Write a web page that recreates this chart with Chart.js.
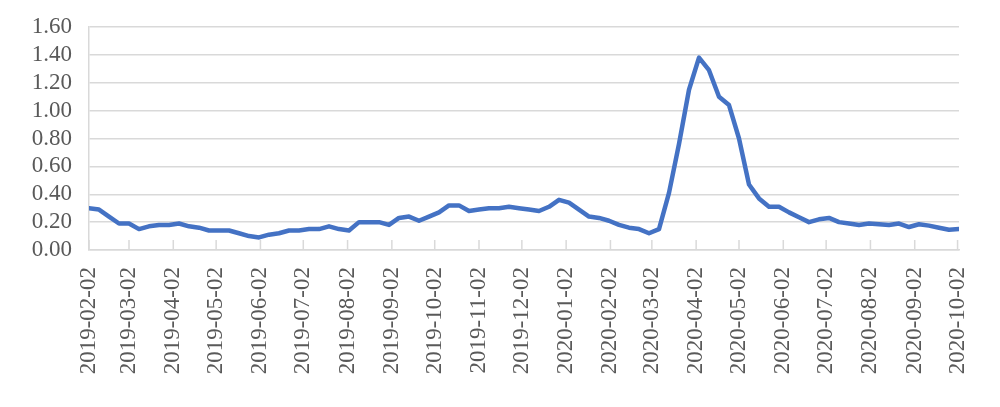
<!DOCTYPE html>
<html>
<head>
<meta charset="utf-8">
<script src="https://cdn.jsdelivr.net/npm/chart.js@4"></script>
<style>
  body { margin: 0; background: #fff; }
  #wrap { width: 1000px; height: 407px; }
</style>
</head>
<body>
<div id="wrap"><canvas id="chart" width="1000" height="407"></canvas></div>
<script>
// weekly series, first point on 2019-02-02
const startDate = '2019-02-02';
const stepDays = 7;
const values = [
    0.30, 0.29, 0.24, 0.19, 0.19, 0.15, 0.17, 0.18, 0.18, 0.19,
    0.17, 0.16, 0.14, 0.14, 0.14, 0.12, 0.10, 0.09, 0.11, 0.12,
    0.14, 0.14, 0.15, 0.15, 0.17, 0.15, 0.14, 0.20, 0.20, 0.20,
    0.18, 0.23, 0.24, 0.21, 0.24, 0.27, 0.32, 0.32, 0.28, 0.29,
    0.30, 0.30, 0.31, 0.30, 0.29, 0.28, 0.31, 0.36, 0.34, 0.29,
    0.24, 0.23, 0.21, 0.18, 0.16, 0.15, 0.12, 0.15, 0.41, 0.76,
    1.15, 1.38, 1.29, 1.10, 1.04, 0.80, 0.47, 0.37, 0.31, 0.31,
    0.27, 0.235, 0.20, 0.22, 0.23, 0.20, 0.19, 0.18, 0.19, 0.185,
    0.18, 0.19, 0.165, 0.185, 0.175, 0.16, 0.145, 0.15
];
const tickLabels = [
    '2019-02-02', '2019-03-02', '2019-04-02', '2019-05-02', '2019-06-02',
    '2019-07-02', '2019-08-02', '2019-09-02', '2019-10-02', '2019-11-02',
    '2019-12-02', '2020-01-02', '2020-02-02', '2020-03-02', '2020-04-02',
    '2020-05-02', '2020-06-02', '2020-07-02', '2020-08-02', '2020-09-02',
    '2020-10-02'
];
const yTicks = [0, 0.2, 0.4, 0.6, 0.8, 1.0, 1.2, 1.4, 1.6];

function dayOffset(s) {
    const [y, m, d] = s.split('-').map(Number);
    const [y0, m0, d0] = startDate.split('-').map(Number);
    return (Date.UTC(y, m - 1, d) - Date.UTC(y0, m0 - 1, d0)) / 86400000;
}

const points = values.map((v, i) => ({x: i * stepDays, y: v}));
const tickOffsets = tickLabels.map(dayOffset);
const labelByOffset = {};
tickLabels.forEach((l, i) => labelByOffset[tickOffsets[i]] = l);

const gridColor = '#d9d9d9';
const textColor = '#595959';
const font = {family: '"Liberation Serif", "Times New Roman", serif', size: 23};

// short tick marks pointing up into the plot, like the original
const insideTicks = {
    id: 'insideTicks',
    beforeDatasetsDraw(chart) {
        const ctx = chart.ctx;
        const x = chart.scales.x;
        const bottom = chart.chartArea.bottom;
        ctx.save();
        ctx.strokeStyle = gridColor;
        ctx.lineWidth = 1.5;
        tickOffsets.forEach(v => {
            const px = x.getPixelForValue(v);
            ctx.beginPath();
            ctx.moveTo(px, bottom);
            ctx.lineTo(px, bottom - 10);
            ctx.stroke();
        });
        ctx.restore();
    }
};

new Chart(document.getElementById('chart'), {
    type: 'line',
    data: {
        datasets: [{
            data: points,
            borderColor: '#4472C4',
            borderWidth: 4.5,
            pointRadius: 0,
            tension: 0,
            fill: false,
            borderJoinStyle: 'round',
            borderCapStyle: 'round'
        }]
    },
    options: {
        responsive: false,
        animation: false,
        layout: { padding: { left: 0, top: 27, right: 41, bottom: 0 } },
        plugins: {
            legend: { display: false },
            tooltip: { enabled: false }
        },
        scales: {
            x: {
                type: 'linear',
                min: 0,
                max: (values.length - 1) * stepDays,
                afterBuildTicks: scale => {
                    scale.ticks = tickOffsets.map(v => ({value: v}));
                },
                afterFit: scale => {
                    scale.height = 157;
                    scale.paddingLeft = 0;
                    scale.paddingRight = 0;
                },
                grid: { display: false, drawTicks: false },
                border: { display: true, color: gridColor, width: 1.5 },
                ticks: {
                    autoSkip: false,
                    maxRotation: 90,
                    minRotation: 90,
                    padding: 17,
                    color: textColor,
                    font: font,
                    callback: v => labelByOffset[v]
                }
            },
            y: {
                min: 0,
                max: 1.6,
                afterBuildTicks: scale => {
                    scale.ticks = yTicks.map(v => ({value: v}));
                },
                afterFit: scale => {
                    scale.width = 89;
                    scale.paddingTop = 0;
                    scale.paddingBottom = 0;
                },
                grid: { color: gridColor, lineWidth: 1.5, drawTicks: false },
                border: { display: true, color: gridColor, width: 1.5 },
                ticks: {
                    autoSkip: false,
                    padding: 17,
                    color: textColor,
                    font: font,
                    callback: v => v.toFixed(2)
                }
            }
        }
    },
    plugins: [insideTicks]
});
</script>
</body>
</html>
